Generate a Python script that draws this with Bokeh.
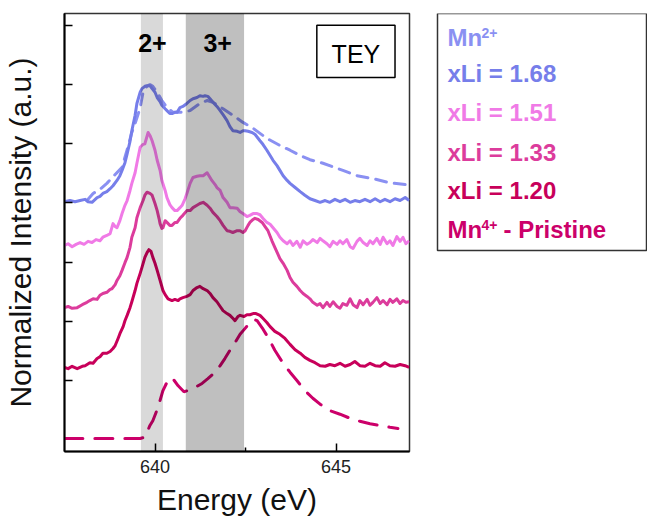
from bokeh.plotting import figure
from bokeh.layouts import row
from bokeh.models import BoxAnnotation, Label, FixedTicker, Range1d
from bokeh.core.properties import value
from bokeh.embed import file_html
from bokeh.resources import INLINE

FONT = "Liberation Sans"

# ---------------- data ----------------
# xLi = 1.68 (solid, blue)
e_168 = [637.50, 637.65, 637.79, 637.93, 638.07, 638.15, 638.26, 638.40, 638.48, 638.56, 638.67, 638.76,
         638.84, 638.95, 639.03, 639.09, 639.17, 639.23, 639.31, 639.36, 639.45, 639.50, 639.59, 639.64,
         639.72, 639.78, 639.86, 639.92, 640.00, 640.06, 640.14, 640.19, 640.28, 640.33, 640.41, 640.47,
         640.55, 640.61, 640.69, 640.77, 640.88, 640.97, 641.05, 641.16, 641.24, 641.33, 641.38, 641.46,
         641.52, 641.60, 641.71, 641.80, 641.88, 641.99, 642.07, 642.15, 642.27, 642.35, 642.43, 642.49,
         642.57, 642.68, 642.76, 642.90, 642.98, 643.09, 643.18, 643.26, 643.37, 643.45, 643.54, 643.65,
         643.73, 643.87, 644.01, 644.14, 644.28, 644.42, 644.56, 644.70, 644.83, 644.97, 645.11, 645.25,
         645.39, 645.52, 645.66, 645.80, 645.94, 646.08, 646.22, 646.35, 646.49, 646.63, 646.77, 646.91, 647.02]
y_168 = [4.02, 4.04, 4.02, 4.04, 4.06, 4.02, 4.01, 4.09, 4.11, 4.16, 4.19, 4.24,
         4.29, 4.38, 4.46, 4.55, 4.68, 4.83, 5.04, 5.22, 5.48, 5.68, 5.87, 5.93,
         5.97, 5.98, 5.98, 5.93, 5.87, 5.78, 5.71, 5.65, 5.59, 5.56, 5.51, 5.51,
         5.53, 5.53, 5.61, 5.63, 5.68, 5.73, 5.76, 5.78, 5.81, 5.80, 5.81, 5.80,
         5.76, 5.70, 5.63, 5.56, 5.49, 5.39, 5.29, 5.22, 5.21, 5.19, 5.22, 5.22,
         5.21, 5.19, 5.16, 5.05, 4.99, 4.89, 4.80, 4.72, 4.63, 4.55, 4.46, 4.38,
         4.33, 4.26, 4.19, 4.13, 4.07, 4.04, 4.01, 4.04, 4.01, 4.06, 4.02, 4.06,
         4.01, 4.04, 4.02, 4.06, 4.02, 4.07, 4.02, 4.06, 4.02, 4.07, 4.04, 4.09, 4.04]

# Mn2+ reference (dashed, blue)
e_mn2 = [638.12, 638.29, 638.48, 638.67, 638.90, 639.09, 639.25, 639.36, 639.45, 639.59, 639.67, 639.78,
         639.86, 639.94, 640.06, 640.19, 640.33, 640.50, 640.69, 640.83, 640.97, 641.24, 641.44, 641.60,
         641.88, 642.15, 642.43, 642.71, 643.09, 643.45, 643.73, 644.01, 644.28, 644.64, 645.19, 645.58,
         646.02, 646.49, 646.91]
y_mn2 = [4.04, 4.16, 4.23, 4.33, 4.48, 4.60, 4.94, 5.19, 5.34, 5.61, 5.87, 5.97,
         6.00, 5.97, 5.87, 5.73, 5.61, 5.53, 5.53, 5.54, 5.56, 5.68, 5.73, 5.70,
         5.59, 5.48, 5.36, 5.26, 5.09, 4.97, 4.89, 4.80, 4.73, 4.67, 4.55, 4.46,
         4.41, 4.34, 4.31]

# xLi = 1.51 (solid, light pink)
e_151 = [637.50, 637.60, 637.71, 637.82, 637.93, 638.04, 638.15, 638.26, 638.37, 638.48, 638.56, 638.67,
         638.76, 638.84, 638.90, 638.95, 639.03, 639.09, 639.17, 639.23, 639.31, 639.36, 639.45, 639.50,
         639.59, 639.67, 639.72, 639.81, 639.86, 639.92, 640.00, 640.06, 640.14, 640.19, 640.28, 640.33,
         640.41, 640.47, 640.55, 640.61, 640.69, 640.75, 640.83, 640.88, 640.97, 641.05, 641.16, 641.24,
         641.33, 641.44, 641.52, 641.57, 641.66, 641.71, 641.80, 641.88, 641.99, 642.07, 642.15, 642.27,
         642.35, 642.43, 642.54, 642.62, 642.71, 642.82, 642.90, 642.98, 643.09, 643.18, 643.26, 643.37,
         643.45, 643.54, 643.65, 643.73, 643.81, 643.92, 644.01, 644.09, 644.20, 644.28, 644.36, 644.48,
         644.56, 644.64, 644.75, 644.83, 644.92, 645.03, 645.11, 645.19, 645.30, 645.39, 645.47, 645.58,
         645.66, 645.75, 645.86, 645.94, 646.02, 646.13, 646.22, 646.30, 646.41, 646.49, 646.57, 646.68,
         646.77, 646.85, 646.93, 647.02]
y_151 = [3.28, 3.31, 3.26, 3.30, 3.33, 3.30, 3.35, 3.33, 3.38, 3.36, 3.42, 3.45,
         3.48, 3.65, 3.60, 3.58, 3.70, 3.82, 3.96, 4.04, 4.21, 4.33, 4.51, 4.67,
         4.94, 4.99, 5.00, 5.19, 5.14, 5.05, 4.89, 4.72, 4.55, 4.38, 4.21, 4.09,
         3.97, 3.92, 3.87, 3.87, 3.92, 3.96, 4.07, 4.16, 4.33, 4.43, 4.45, 4.46,
         4.46, 4.51, 4.43, 4.38, 4.31, 4.26, 4.21, 4.09, 4.01, 3.92, 3.92, 3.91,
         3.85, 3.82, 3.77, 3.79, 3.82, 3.82, 3.80, 3.74, 3.67, 3.64, 3.58, 3.50,
         3.42, 3.36, 3.31, 3.36, 3.28, 3.35, 3.25, 3.36, 3.30, 3.33, 3.38, 3.33,
         3.40, 3.36, 3.31, 3.26, 3.35, 3.30, 3.36, 3.31, 3.38, 3.26, 3.23, 3.35,
         3.40, 3.33, 3.28, 3.36, 3.31, 3.40, 3.30, 3.42, 3.31, 3.36, 3.28, 3.43,
         3.35, 3.42, 3.31, 3.36]

# xLi = 1.33 (solid, magenta)
e_133 = [637.50, 637.60, 637.71, 637.85, 637.99, 638.12, 638.20, 638.29, 638.40, 638.48, 638.56, 638.67,
         638.76, 638.81, 638.90, 638.95, 639.03, 639.09, 639.17, 639.23, 639.31, 639.36, 639.45, 639.50,
         639.59, 639.67, 639.72, 639.78, 639.86, 639.92, 640.00, 640.06, 640.11, 640.14, 640.19, 640.22,
         640.28, 640.33, 640.41, 640.47, 640.55, 640.61, 640.69, 640.77, 640.88, 640.97, 641.05, 641.16,
         641.24, 641.33, 641.44, 641.52, 641.60, 641.71, 641.80, 641.88, 641.99, 642.07, 642.15, 642.27,
         642.35, 642.43, 642.49, 642.57, 642.62, 642.71, 642.76, 642.85, 642.96, 643.04, 643.12, 643.23,
         643.31, 643.45, 643.54, 643.65, 643.73, 643.81, 643.92, 644.01, 644.09, 644.20, 644.28, 644.36,
         644.48, 644.56, 644.64, 644.75, 644.83, 644.92, 645.03, 645.11, 645.19, 645.30, 645.39, 645.47,
         645.58, 645.66, 645.75, 645.86, 645.94, 646.02, 646.13, 646.22, 646.30, 646.41, 646.49, 646.57,
         646.68, 646.77, 646.85, 646.93, 647.02]
y_133 = [2.23, 2.25, 2.22, 2.23, 2.28, 2.32, 2.35, 2.38, 2.37, 2.44, 2.47, 2.49,
         2.54, 2.55, 2.62, 2.69, 2.77, 2.86, 2.99, 3.08, 3.25, 3.42, 3.58, 3.75,
         3.92, 4.04, 4.13, 4.18, 4.16, 4.13, 3.99, 3.87, 3.74, 3.65, 3.57, 3.58,
         3.70, 3.67, 3.62, 3.62, 3.67, 3.67, 3.74, 3.79, 3.87, 3.87, 3.92, 3.96,
         3.99, 4.01, 3.96, 3.91, 3.84, 3.77, 3.70, 3.62, 3.53, 3.52, 3.50, 3.53,
         3.53, 3.50, 3.53, 3.62, 3.67, 3.72, 3.74, 3.72, 3.67, 3.60, 3.53, 3.36,
         3.25, 3.06, 2.98, 2.86, 2.74, 2.66, 2.59, 2.52, 2.47, 2.42, 2.38, 2.32,
         2.27, 2.30, 2.23, 2.32, 2.25, 2.33, 2.25, 2.22, 2.30, 2.27, 2.38, 2.28,
         2.23, 2.35, 2.28, 2.37, 2.27, 2.32, 2.40, 2.30, 2.35, 2.28, 2.37, 2.32,
         2.38, 2.30, 2.35, 2.32, 2.33]

# xLi = 1.20 (solid, dark magenta)
e_120 = [637.50, 637.60, 637.71, 637.85, 637.99, 638.07, 638.20, 638.29, 638.40, 638.48, 638.56, 638.67,
         638.76, 638.84, 638.90, 638.98, 639.03, 639.12, 639.17, 639.23, 639.31, 639.36, 639.45, 639.50,
         639.59, 639.64, 639.72, 639.78, 639.83, 639.89, 639.94, 640.00, 640.06, 640.14, 640.22, 640.28,
         640.36, 640.47, 640.55, 640.64, 640.69, 640.77, 640.88, 640.97, 641.05, 641.16, 641.24, 641.33,
         641.44, 641.52, 641.60, 641.71, 641.80, 641.88, 641.99, 642.07, 642.15, 642.21, 642.29, 642.35,
         642.46, 642.54, 642.62, 642.71, 642.79, 642.90, 642.98, 643.09, 643.18, 643.31, 643.45, 643.59,
         643.73, 643.87, 644.01, 644.14, 644.28, 644.42, 644.56, 644.70, 644.83, 644.97, 645.11, 645.25,
         645.39, 645.52, 645.66, 645.80, 645.94, 646.08, 646.22, 646.35, 646.49, 646.63, 646.77, 646.91, 647.02]
y_120 = [1.22, 1.20, 1.24, 1.20, 1.24, 1.25, 1.30, 1.29, 1.37, 1.40, 1.46, 1.46,
         1.49, 1.54, 1.59, 1.71, 1.79, 1.91, 2.01, 2.10, 2.23, 2.33, 2.52, 2.64,
         2.81, 2.91, 3.08, 3.16, 3.21, 3.18, 3.08, 2.98, 2.86, 2.69, 2.52, 2.45,
         2.38, 2.35, 2.37, 2.35, 2.38, 2.40, 2.42, 2.45, 2.52, 2.57, 2.59, 2.55,
         2.52, 2.47, 2.40, 2.33, 2.25, 2.18, 2.13, 2.10, 2.05, 2.01, 2.08, 2.10,
         2.08, 2.11, 2.11, 2.13, 2.13, 2.10, 2.05, 1.98, 1.91, 1.83, 1.78, 1.71,
         1.61, 1.52, 1.46, 1.39, 1.34, 1.30, 1.25, 1.24, 1.27, 1.25, 1.29, 1.24,
         1.27, 1.32, 1.25, 1.24, 1.29, 1.25, 1.24, 1.30, 1.25, 1.24, 1.27, 1.25, 1.22]

# Mn4+ - Pristine (dashed, dark magenta)
e_mn4 = [637.51, 638.48, 639.59, 639.72, 639.86, 639.94, 640.08, 640.22, 640.33, 640.47, 640.64, 640.80,
         640.91, 641.10, 641.30, 641.46, 641.66, 641.80, 641.93, 642.07, 642.21, 642.35, 642.49, 642.62,
         642.74, 642.82, 642.96, 643.09, 643.20, 643.31, 643.54, 643.73, 643.92, 644.14, 644.36, 644.56,
         644.83, 645.11, 645.39, 645.66, 645.94, 646.22, 646.49, 646.71]
y_mn4 = [0.02, 0.02, 0.02, 0.04, 0.24, 0.32, 0.54, 0.83, 0.97, 1.05, 0.91, 0.81,
         0.83, 0.88, 0.95, 1.03, 1.14, 1.25, 1.37, 1.51, 1.64, 1.78, 1.88, 1.98,
         2.03, 2.01, 1.89, 1.76, 1.64, 1.51, 1.29, 1.14, 1.00, 0.83, 0.70, 0.60,
         0.49, 0.43, 0.36, 0.31, 0.27, 0.24, 0.21, 0.19]

# shaded oxidation-state windows (eV)
band_2p = (639.61, 640.22)
band_3p = (640.85, 642.46)

x_ticks = [640, 645]
x_minor = [642.5]
y_ticks = [1, 2, 3, 4, 5, 6, 7]

C_MN2 = "#8a90f2"
C_168 = "#767eea"
C_151 = "#f07ae6"
C_133 = "#dc3c9c"
C_120 = "#c8005a"
C_MN4 = "#cc006a"

# ---------------- main plot ----------------
p = figure(width=430, height=523, x_range=Range1d(637.5, 647.03), y_range=Range1d(-0.2, 7.2),
           output_backend="svg", toolbar_location=None,
           min_border_left=64, min_border_right=21, min_border_top=13, min_border_bottom=72)
p.xgrid.visible = False
p.ygrid.visible = False
p.outline_line_color = "#333333"
p.outline_line_width = 1.5
p.background_fill_color = "white"
p.border_fill_color = "white"

p.line(e_mn4, y_mn4, line_color=C_MN4, line_width=3, line_dash="18 12", line_cap="round")
p.line(e_120, y_120, line_color=C_120, line_width=3, line_join="round")
p.line(e_133, y_133, line_color=C_133, line_width=3, line_join="round")
p.line(e_151, y_151, line_color=C_151, line_width=3, line_join="round")
p.line(e_mn2, y_mn2, line_color=C_MN2, line_width=3, line_dash="11 8", line_cap="round")
p.line(e_168, y_168, line_color=C_168, line_width=3, line_join="round")

p.add_layout(BoxAnnotation(left=band_2p[0], right=band_2p[1], fill_color="black", fill_alpha=0.15,
                           line_alpha=0))
p.add_layout(BoxAnnotation(left=band_3p[0], right=band_3p[1], fill_color="black", fill_alpha=0.25,
                           line_alpha=0))

p.add_layout(Label(x=639.93, y=6.71, text="2+", text_font=FONT, text_font_style="bold",
                   text_font_size="25px", text_align="center", text_baseline="alphabetic",
                   text_color="black"))
p.add_layout(Label(x=641.73, y=6.71, text="3+", text_font=FONT, text_font_style="bold",
                   text_font_size="25px", text_align="center", text_baseline="alphabetic",
                   text_color="black"))

p.add_layout(BoxAnnotation(left=644.47, right=646.63, top=7.00, bottom=6.12, fill_color="white",
                           fill_alpha=1.0, line_color="black", line_alpha=1.0, line_width=1.5))
p.add_layout(Label(x=645.55, y=6.51, text="TEY", text_font=FONT, text_font_size="25px",
                   text_align="center", text_baseline="alphabetic", text_color="black"))

# axes
p.xaxis.ticker = FixedTicker(ticks=x_ticks, minor_ticks=x_minor)
p.xaxis.major_tick_in = 8
p.xaxis.major_tick_out = 0
p.xaxis.minor_tick_in = 4
p.xaxis.minor_tick_out = 0
p.xaxis.major_label_text_font = FONT
p.xaxis.major_label_text_font_size = "18px"
p.xaxis.major_label_text_color = "#222222"
p.xaxis.major_label_standoff = 8
p.xaxis.axis_label = "Energy (eV)"
p.xaxis.axis_label_text_font = FONT
p.xaxis.axis_label_text_font_size = "30px"
p.xaxis.axis_label_text_font_style = "normal"
p.xaxis.axis_label_text_color = "#111111"
p.xaxis.axis_label_standoff = 7
p.xaxis.axis_line_width = 2
p.xaxis.axis_line_color = "black"
p.xaxis.major_tick_line_width = 1.5
p.xaxis.minor_tick_line_width = 1.5

# y ticks are unlabeled: draw them as minor ticks so no empty labels are produced
p.yaxis.ticker = FixedTicker(ticks=[], minor_ticks=y_ticks)
p.yaxis.major_tick_in = 0
p.yaxis.major_tick_out = 0
p.yaxis.minor_tick_in = 8
p.yaxis.minor_tick_out = 0
p.yaxis.minor_tick_line_width = 1.5
p.yaxis.minor_tick_line_color = "black"
p.yaxis.major_label_standoff = 0
p.yaxis.axis_label = "Normalized Intensity (a.u.)"
p.yaxis.axis_label_text_font = FONT
p.yaxis.axis_label_text_font_size = "30px"
p.yaxis.axis_label_text_font_style = "normal"
p.yaxis.axis_label_text_color = "#111111"
p.yaxis.axis_label_standoff = 28
p.yaxis.axis_line_width = 2
p.yaxis.axis_line_color = "black"

# ---------------- legend panel (data units = pixels of this panel) ----------------
leg_main = ["Mn", "xLi = 1.68", "xLi = 1.51", "xLi = 1.33", "xLi = 1.20", "Mn", "- Pristine"]
leg_colors = [C_MN2, C_168, C_151, C_133, C_120, C_MN4, C_MN4]
leg_x = [17, 17, 17, 17, 17, 17, 73]
leg_y = [37, 73, 112, 152, 190, 229, 229]
sup_text = ["2+", "4+"]
sup_colors = [C_MN2, C_MN4]
sup_x = [51, 51]
sup_y = [32, 224]

q = figure(width=217, height=523, x_range=Range1d(0, 217), y_range=Range1d(451, 13),
           output_backend="svg", toolbar_location=None,
           x_axis_location=None, y_axis_location=None,
           min_border_left=0, min_border_right=0, min_border_top=13, min_border_bottom=72)
q.xgrid.visible = False
q.ygrid.visible = False
q.outline_line_color = None
q.background_fill_color = "white"
q.border_fill_color = "white"

q.add_layout(BoxAnnotation(left=7, right=216, top=13, bottom=250, fill_alpha=0,
                           line_color="#333333", line_alpha=1.0, line_width=1.5))
q.text(x=leg_x, y=leg_y, text=leg_main, text_color=leg_colors, text_font=value(FONT),
       text_font_style="bold", text_font_size="24px", text_baseline="alphabetic", text_align="left")
q.text(x=sup_x, y=sup_y, text=sup_text, text_color=sup_colors, text_font=value(FONT),
       text_font_style="bold", text_font_size="14px", text_baseline="alphabetic", text_align="left")

layout = row(p, q)
open("out.html", "w").write(file_html(layout, INLINE))
